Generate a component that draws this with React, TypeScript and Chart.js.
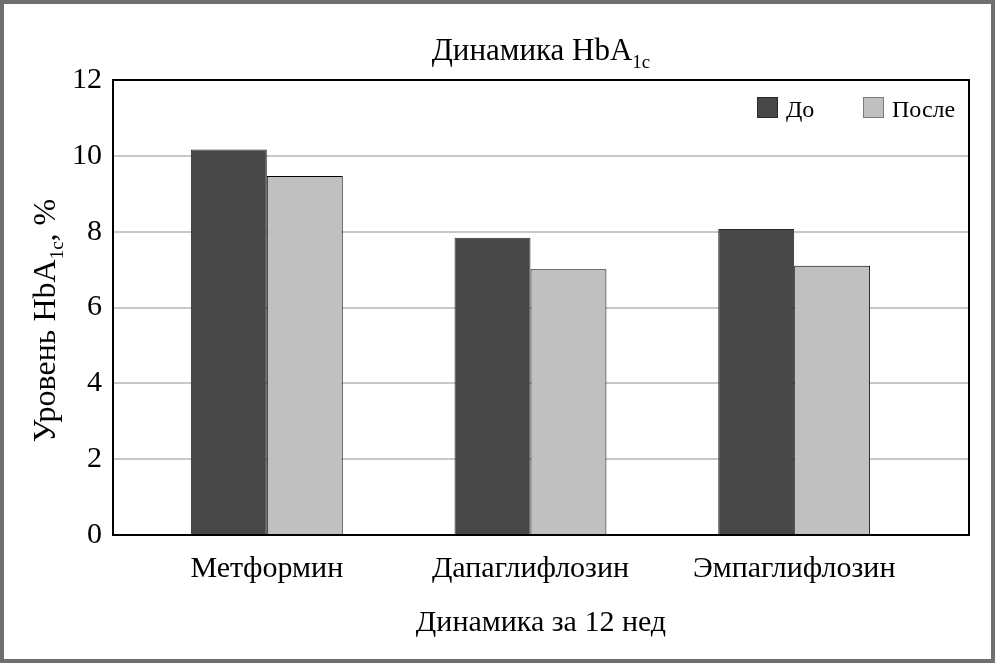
import React, { useEffect, useRef } from "react";
import { Chart, registerables } from "chart.js";

Chart.register(...registerables);

const categories = ["Метформин", "Дапаглифлозин", "Эмпаглифлозин"];
const seriesBefore = [10.17, 7.84, 8.07];
const seriesAfter = [9.47, 7.01, 7.1];
const seriesLabels = ["До", "После"];
const yTicks = [0, 2, 4, 6, 8, 10, 12];
const titleMain = "Динамика HbA";
const titleSub = "1c";
const yTitleMain = "Уровень HbA";
const yTitleSub = "1c";
const yTitleEnd = ", %";
const xTitle = "Динамика за 12 нед";

const FONT = "'Liberation Serif', 'Times New Roman', serif";
const COLORS = ["#474747", "#c0c0c0"];
const BORDERS = ["#2a2a2a", "#000000"];

function drawSubText(ctx: CanvasRenderingContext2D, parts: { t: string; sub?: boolean }[], cx: number, y: number, size: number) {
  const subSize = Math.round(size * 0.6);
  let total = 0;
  const widths = parts.map((p) => {
    ctx.font = `${p.sub ? subSize : size}px ${FONT}`;
    const w = ctx.measureText(p.t).width;
    total += w;
    return w;
  });
  let x = cx - total / 2;
  parts.forEach((p, i) => {
    ctx.font = `${p.sub ? subSize : size}px ${FONT}`;
    ctx.fillText(p.t, x, p.sub ? y + size * 0.25 : y);
    x += widths[i];
  });
}

const customPlugin = {
  id: "custom",
  beforeDraw(chart: any) {
    const ctx = chart.ctx as CanvasRenderingContext2D;
    ctx.save();
    ctx.fillStyle = "#ffffff";
    ctx.fillRect(0, 0, chart.width, chart.height);
    ctx.strokeStyle = "#6f6f6f";
    ctx.lineWidth = 4;
    ctx.strokeRect(2, 2, chart.width - 4, chart.height - 4);
    ctx.restore();
  },
  afterDatasetsDraw(chart: any) {
    const ctx = chart.ctx as CanvasRenderingContext2D;
    const a = chart.chartArea;
    ctx.save();
    ctx.strokeStyle = "#000";
    ctx.lineWidth = 2;
    ctx.strokeRect(a.left, a.top, a.right - a.left, a.bottom - a.top);
    ctx.restore();
  },
  afterDraw(chart: any) {
    const ctx = chart.ctx as CanvasRenderingContext2D;
    const a = chart.chartArea;
    ctx.save();
    ctx.fillStyle = "#000";
    ctx.textBaseline = "alphabetic";
    ctx.textAlign = "left";
    // title
    drawSubText(ctx, [{ t: titleMain }, { t: titleSub, sub: true }], (a.left + a.right) / 2, 60, 31);
    // y title
    ctx.save();
    ctx.translate(55, (a.top + a.bottom) / 2 + 13);
    ctx.rotate(-Math.PI / 2);
    drawSubText(ctx, [{ t: yTitleMain }, { t: yTitleSub, sub: true }, { t: yTitleEnd }], 0, 0, 32);
    ctx.restore();
    // legend
    const items = chart.data.datasets.map((d: any, i: number) => ({ label: d.label, color: COLORS[i] }));
    const positions = [757, 863];
    items.forEach((it: any, i: number) => {
      const x = positions[i];
      ctx.fillStyle = it.color;
      ctx.fillRect(x, 97, 21, 21);
      ctx.strokeStyle = i === 0 ? "#2a2a2a" : "#7a7a7a";
      ctx.lineWidth = 1;
      ctx.strokeRect(x + 0.5, 97.5, 20, 20);
      ctx.fillStyle = "#000";
      ctx.font = `24px ${FONT}`;
      ctx.fillText(it.label, x + 29, 117);
    });
    ctx.restore();
  },
};

export default function App() {
  const ref = useRef<HTMLCanvasElement | null>(null);
  useEffect(() => {
    document.body.style.margin = "0";
    const canvas = ref.current;
    if (!canvas) return;
    const chart = new Chart(canvas, {
      type: "bar",
      data: {
        datasets: [
          {
            label: seriesLabels[0],
            data: seriesBefore.map((v, i) => ({ x: i, y: v })),
            backgroundColor: COLORS[0],
            borderColor: BORDERS[0],
            borderWidth: 1,
          },
          {
            label: seriesLabels[1],
            data: seriesAfter.map((v, i) => ({ x: i, y: v })),
            backgroundColor: COLORS[1],
            borderColor: BORDERS[1],
            borderWidth: 1,
          },
        ],
      },
      options: {
        animation: false,
        responsive: false,
        maintainAspectRatio: false,
        devicePixelRatio: 1,
        layout: { padding: { top: 80, left: 0, right: 26, bottom: 0 } },
        categoryPercentage: 0.576,
        barPercentage: 1,
        plugins: {
          legend: { display: false },
          title: { display: false },
          tooltip: { enabled: false },
        },
        scales: {
          x: {
            type: "linear",
            min: -0.5833,
            max: 2.663,
            offset: false,
            grid: { display: false, drawTicks: false },
            border: { display: false },
            afterBuildTicks: (scale: any) => {
              scale.ticks = categories.map((_, i) => ({ value: i }));
            },
            afterFit: (scale: any) => {
              scale.height = 128;
            },
            ticks: {
              autoSkip: false,
              maxRotation: 0,
              color: "#000",
              padding: 16,
              font: { family: FONT, size: 30 },
              callback: (v: any) => categories[v as number] ?? "",
            },
            title: {
              display: true,
              text: xTitle,
              color: "#000",
              font: { family: FONT, size: 30 },
              padding: { top: 0, bottom: 22 },
            },
          },
          y: {
            min: 0,
            max: 12,
            afterBuildTicks: (scale: any) => {
              scale.ticks = yTicks.map((v) => ({ value: v }));
            },
            afterFit: (scale: any) => {
              scale.width = 113;
            },
            grid: { color: "#c8c8c8", lineWidth: 2, drawTicks: false },
            border: { display: false },
            ticks: {
              color: "#000",
              padding: 11,
              font: { family: FONT, size: 30 },
            },
          },
        },
      } as any,
      plugins: [customPlugin],
    });
    return () => chart.destroy();
  }, []);
  return <canvas ref={ref} width={995} height={663} style={{ display: "block" }} />;
}
